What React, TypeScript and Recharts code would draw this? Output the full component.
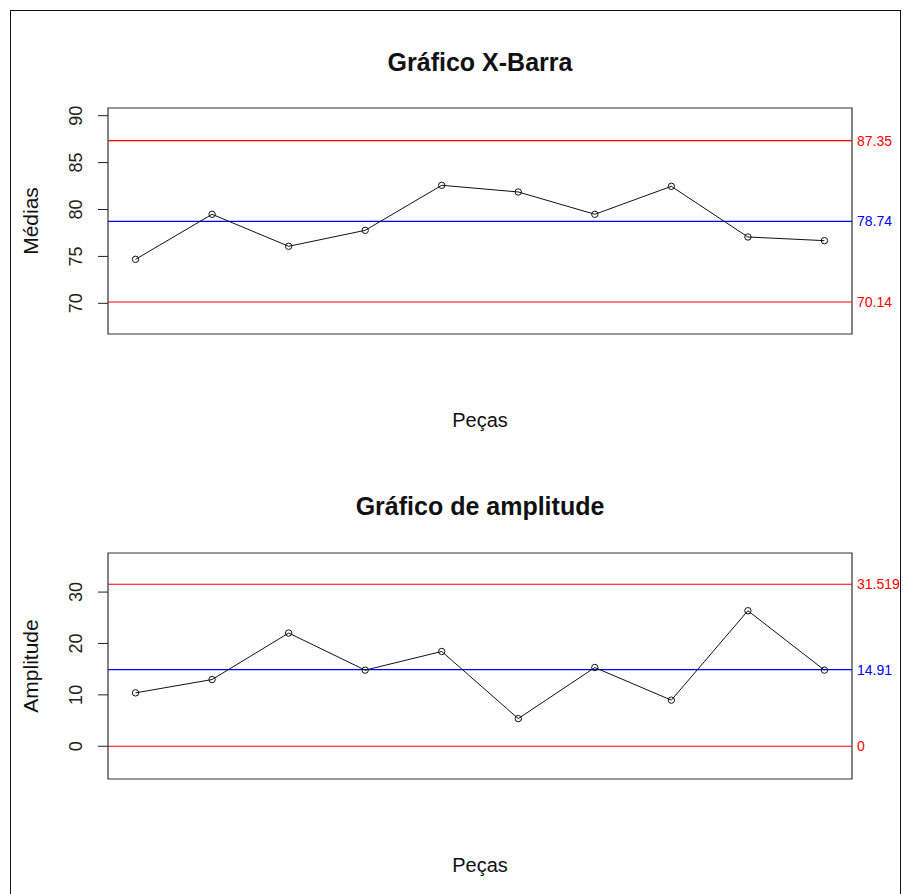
import { LineChart, Line, XAxis, YAxis, ReferenceLine, ReferenceArea } from 'recharts'

// pieces on the x axis (no tick labels drawn)
const pieces = [1, 2, 3, 4, 5, 6, 7, 8, 9, 10]
const xbarValues = [74.69, 79.49, 76.08, 77.78, 82.58, 81.87, 79.49, 82.47, 77.07, 76.68]
const rangeValues = [10.39, 12.98, 22.03, 14.81, 18.44, 5.38, 15.32, 8.97, 26.37, 14.81]

// control limits: LSC, LC, LIC
const xbarLimits = [87.35, 78.74, 70.14]
const rangeLimits = [31.519, 14.91, 0]

const xbarTicks = [70, 75, 80, 85, 90]
const rangeTicks = [0, 10, 20, 30]

const FONT = '"Liberation Sans", Arial, sans-serif'
const W = 903
const H = 447
const X_DOMAIN: [number, number] = [0.64, 10.36]

function RotatedTick(props: any) {
  const { x, y, payload } = props
  const tx = x - 14
  return (
    <text
      x={tx}
      y={y}
      transform={`rotate(-90, ${tx}, ${y})`}
      textAnchor="middle"
      fontSize={18}
      fontFamily={FONT}
      fill="#222"
    >
      {payload.value}
    </text>
  )
}

function OpenDot(props: any) {
  const { cx, cy } = props
  if (cx == null || cy == null) return null
  return <circle cx={cx} cy={cy} r={3.2} fill="none" stroke="#111" strokeWidth={1} />
}

interface PanelProps {
  values: number[]
  limits: number[]
  ticks: number[]
  domain: [number, number]
  marginTop: number
  marginBottom: number
}

function Panel({ values, limits, ticks, domain, marginTop, marginBottom }: PanelProps) {
  const data = pieces.map((p, i) => ({ x: p, y: values[i] }))
  return (
    <LineChart
      width={W}
      height={H}
      data={data}
      margin={{ top: marginTop, right: 51, bottom: marginBottom, left: 68 }}
    >
      <XAxis dataKey="x" type="number" domain={X_DOMAIN} hide />
      <YAxis
        type="number"
        domain={domain}
        ticks={ticks}
        width={40}
        axisLine={false}
        tickSize={10}
        tickLine={{ stroke: '#222' }}
        tick={<RotatedTick />}
        allowDataOverflow
      />
      <ReferenceArea
        x1={X_DOMAIN[0]}
        x2={X_DOMAIN[1]}
        y1={domain[0]}
        y2={domain[1]}
        fill="none"
        stroke="#333"
        strokeWidth={1.2}
        ifOverflow="visible"
      />
      {limits.map((v, i) => {
        const color = i === 1 ? '#0000ff' : '#ff0000'
        return (
          <ReferenceLine
            key={i}
            y={v}
            stroke={color}
            strokeWidth={1.2}
            label={{ value: String(v), position: 'right', fill: color, fontSize: 14, fontFamily: FONT }}
          />
        )
      })}
      <Line
        dataKey="y"
        stroke="#111"
        strokeWidth={1}
        dot={<OpenDot />}
        activeDot={false}
        isAnimationActive={false}
      />
    </LineChart>
  )
}

function Text({ x, y, size, bold, rotate, children }: any) {
  return (
    <div
      style={{
        position: 'absolute',
        left: x,
        top: y,
        transform: `translate(-50%, -50%)${rotate ? ' rotate(-90deg)' : ''}`,
        fontFamily: FONT,
        fontSize: size,
        fontWeight: bold ? 700 : 400,
        lineHeight: 1,
        whiteSpace: 'nowrap',
        color: '#111',
      }}
    >
      {children}
    </div>
  )
}

export default function App() {
  return (
    <div
      style={{
        position: 'fixed',
        left: 0,
        top: 0,
        width: W,
        height: 894,
        overflow: 'hidden',
        background: '#fff',
      }}
    >
      <div
        style={{
          position: 'absolute',
          left: 10,
          top: 10,
          width: 889,
          height: 920,
          border: '1.5px solid #111',
        }}
      />
      <div style={{ position: 'absolute', left: 0, top: 0 }}>
        <Panel
          values={xbarValues}
          limits={xbarLimits}
          ticks={xbarTicks}
          domain={[66.73, 90.82]}
          marginTop={108}
          marginBottom={113}
        />
      </div>
      <div style={{ position: 'absolute', left: 0, top: H }}>
        <Panel
          values={rangeValues}
          limits={rangeLimits}
          ticks={rangeTicks}
          domain={[-6.37, 37.6]}
          marginTop={106}
          marginBottom={115}
        />
      </div>
      <Text x={480} y={62} size={25} bold>Gráfico X-Barra</Text>
      <Text x={480} y={420} size={20}>Peças</Text>
      <Text x={30} y={221} size={21} rotate>Médias</Text>
      <Text x={480} y={506} size={25} bold>Gráfico de amplitude</Text>
      <Text x={480} y={865} size={20}>Peças</Text>
      <Text x={30} y={666} size={21} rotate>Amplitude</Text>
    </div>
  )
}
